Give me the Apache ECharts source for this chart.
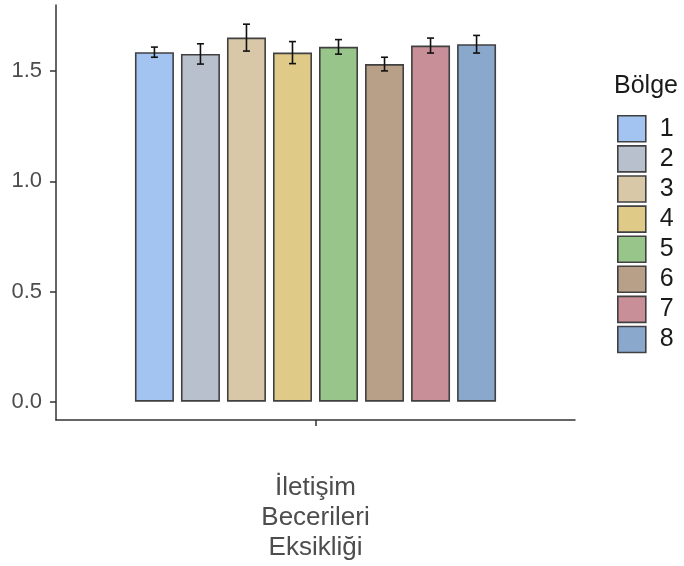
<!DOCTYPE html>
<html>
<head>
<meta charset="utf-8">
<script src="https://cdn.jsdelivr.net/npm/echarts@6/dist/echarts.min.js"></script>
<style>html,body{margin:0;padding:0;background:#fff}#c{width:684px;height:566px}</style>
</head>
<body>
<div id="c"></div>
<script>
// ---- data ----
const category = ['İletişim\nBecerileri\nEksikliği'];
const regions = ['1', '2', '3', '4', '5', '6', '7', '8'];
const means = [1.586, 1.578, 1.652, 1.584, 1.610, 1.532, 1.616, 1.622];
const errors = [0.023, 0.046, 0.061, 0.050, 0.033, 0.031, 0.034, 0.040];
const yTicks = [0, 0.5, 1.0, 1.5];
const legendTitle = 'Bölge';

// ---- style ----
const colors = ['#a3c3f0', '#b8c0ce', '#d8c8a8', '#e0ca88', '#98c58a', '#b89f87', '#c98f99', '#8aa7cc'];
const BAR_WIDTH = 39;
const BAR_GAP = 0.18;
const FONT = 'Liberation Sans, Arial, sans-serif';

const chart = echarts.init(document.getElementById('c'), null, {renderer: 'canvas'});

const barSeries = regions.map((r, i) => ({
  name: r,
  type: 'bar',
  data: [means[i]],
  barWidth: BAR_WIDTH,
  barGap: (BAR_GAP * 100) + '%',
  itemStyle: {color: colors[i], borderColor: '#404040', borderWidth: 1.6},
  emphasis: {disabled: true},
  z: 2
}));

const errSeries = {
  type: 'custom',
  name: 'err',
  z: 5,
  silent: true,
  data: means.map((m, i) => [0, m, errors[i], i]),
  encode: {x: 0, y: 1},
  renderItem: function (params, api) {
    const idx = api.value(3);
    const m = api.value(1), e = api.value(2);
    const n = regions.length;
    const off = (idx - (n - 1) / 2) * BAR_WIDTH * (1 + BAR_GAP);
    const top = api.coord([0, m + e]);
    const bot = api.coord([0, m - e]);
    const x = top[0] + off;
    const cap = 3.5;
    const st = {stroke: '#111', lineWidth: 1.6, fill: null};
    return {
      type: 'group',
      children: [
        {type: 'line', shape: {x1: x, y1: top[1], x2: x, y2: bot[1]}, style: st},
        {type: 'line', shape: {x1: x - cap, y1: top[1], x2: x + cap, y2: top[1]}, style: st},
        {type: 'line', shape: {x1: x - cap, y1: bot[1], x2: x + cap, y2: bot[1]}, style: st}
      ]
    };
  }
};

chart.setOption({
  animation: false,
  backgroundColor: '#ffffff',
  textStyle: {fontFamily: FONT},
  title: {
    text: legendTitle,
    left: 614, top: 74, padding: 0,
    textStyle: {fontSize: 25, fontWeight: 'normal', color: '#1a1a1a', fontFamily: FONT}
  },
  legend: {
    data: regions,
    orient: 'vertical',
    left: 617, top: 115, padding: 0,
    itemWidth: 28, itemHeight: 26, itemGap: 2.5,
    icon: 'rect',
    selectedMode: false,
    itemStyle: {borderColor: '#404040', borderWidth: 1.6},
    textStyle: {fontSize: 25, lineHeight: 26, color: '#1a1a1a', fontFamily: FONT, padding: [0, 0, 0, 9]}
  },
  grid: {left: 56, right: 109, top: 5, bottom: 146, containLabel: false},
  xAxis: {
    type: 'category',
    data: category,
    axisLine: {show: true, onZero: false, lineStyle: {color: '#333', width: 1.5}},
    axisTick: {show: true, alignWithLabel: true, length: 6, lineStyle: {color: '#333', width: 1.5}},
    axisLabel: {margin: 53, fontSize: 26, lineHeight: 30, color: '#4d4d4d', fontFamily: FONT, align: 'center'},
    splitLine: {show: false}
  },
  yAxis: {
    type: 'value',
    min: -0.083, max: 1.8,
    axisLine: {show: true, lineStyle: {color: '#333', width: 1.5}},
    axisTick: {show: true, length: 6, customValues: yTicks, lineStyle: {color: '#333', width: 1.5}},
    axisLabel: {
      margin: 14, fontSize: 22, color: '#4d4d4d', fontFamily: FONT,
      customValues: yTicks,
      formatter: v => v.toFixed(1)
    },
    splitLine: {show: false}
  },
  series: [...barSeries, errSeries]
});
</script>
</body>
</html>
